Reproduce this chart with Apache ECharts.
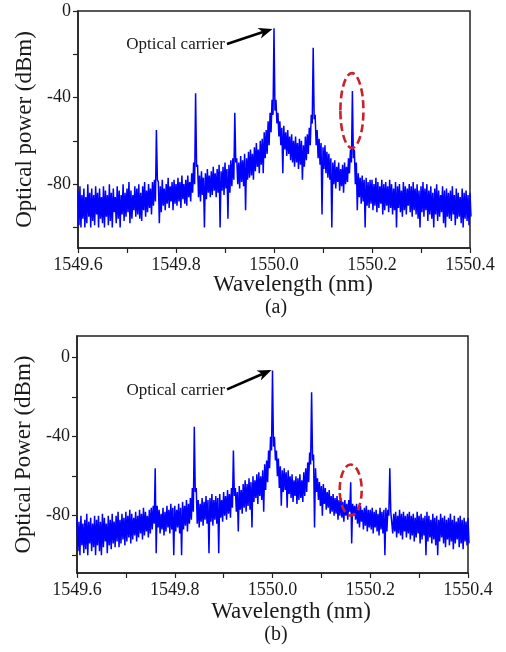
<!DOCTYPE html>
<html><head><meta charset="utf-8">
<script src="https://cdn.jsdelivr.net/npm/echarts@6/dist/echarts.min.js"></script>
<style>html,body{margin:0;padding:0;background:#fff}#c{width:506px;height:652px}</style>
</head><body><div id="c"></div>
<script>
// Spectrum on a wavelength grid: upper trace samples at
// 1549.600 nm + i*0.004 nm, lower trace samples half a step later (201 each).
const wlStart = 1549.6;
const wlStep = 0.004;

// Panel (a): upper / lower samples of the noisy trace (dBm)
const upperA = [
 -83,-81,-85,-82,-86,-80,-84,-82,-85,-81,
 -84,-82,-86,-81,-83,-85,-80,-84,-82,-86,
 -81,-83,-85,-80,-84,-82,-79,-83,-85,-81,
 -82,-80,-84,-81,-79,-83,-80,-82,-79,-78,
 -55,-79,-81,-78,-82,-80,-77,-81,-79,-78,
 -80,-77,-79,-76,-80,-78,-76,-79,-75,-70,
 -38,-71,-76,-74,-77,-75,-73,-76,-74,-72,
 -75,-73,-71,-74,-72,-70,-73,-71,-69,-68,
 -47,-68,-70,-67,-69,-66,-68,-65,-64,-66,
 -63,-61,-64,-60,-59,-56,-55,-51,-47,-41,
 -8,-41,-47,-51,-54,-53,-56,-55,-58,-57,
 -60,-58,-61,-59,-60,-62,-58,-57,-54,-48,
 -17,-48,-55,-59,-61,-63,-62,-65,-66,-68,
 -70,-69,-72,-70,-73,-71,-70,-72,-68,-64,
 -37,-64,-70,-75,-77,-76,-78,-77,-79,-78,
 -78,-80,-77,-79,-81,-78,-80,-79,-81,-78,
 -80,-82,-79,-81,-80,-83,-79,-81,-82,-80,
 -81,-79,-82,-80,-83,-81,-79,-82,-80,-83,
 -81,-84,-82,-80,-83,-85,-81,-83,-82,-84,
 -83,-81,-85,-82,-84,-86,-82,-84,-83,-85,-84
];
const lowerA = [
 -99,-100,-96,-100,-98,-95,-100,-97,-99,-94,
 -100,-96,-98,-100,-95,-99,-97,-100,-93,-98,
 -96,-100,-94,-97,-95,-93,-98,-96,-92,-95,
 -94,-96,-97,-92,-95,-93,-91,-94,-90,-88,
 -78,-98,-93,-90,-92,-89,-91,-88,-92,-89,
 -90,-88,-91,-87,-89,-90,-86,-88,-84,-80,
 -72,-86,-88,-85,-100,-87,-84,-86,-85,-83,
 -86,-84,-100,-83,-85,-82,-96,-84,-81,-78,
 -70,-80,-82,-79,-81,-92,-78,-77,-76,-78,
 -74,-72,-75,-71,-75,-68,-66,-62,-56,-48,
 -46,-52,-58,-62,-75,-64,-67,-66,-69,-70,
 -72,-70,-73,-71,-78,-72,-69,-66,-62,-52,
 -50,-62,-68,-71,-94,-73,-75,-77,-78,-100,
 -80,-82,-79,-83,-81,-84,-80,-79,-75,-70,
 -68,-80,-92,-86,-89,-88,-100,-90,-91,-89,
 -92,-90,-93,-91,-89,-94,-92,-90,-93,-91,
 -94,-92,-100,-91,-93,-95,-92,-94,-90,-93,
 -95,-92,-94,-96,-100,-93,-95,-92,-97,-94,
 -96,-100,-94,-97,-95,-93,-98,-100,-95,-96,
 -97,-94,-99,-96,-95,-98,-100,-96,-97,-99,-95
];

// Panel (b): upper / lower samples of the noisy trace (dBm)
const upperB = [
 -81,-83,-80,-84,-82,-79,-83,-81,-84,-80,
 -82,-80,-83,-79,-81,-84,-80,-82,-79,-83,
 -80,-78,-82,-79,-81,-78,-80,-77,-79,-81,
 -78,-80,-77,-79,-76,-78,-80,-77,-76,-75,
 -56,-75,-77,-79,-76,-78,-75,-77,-74,-76,
 -75,-77,-74,-76,-73,-75,-72,-74,-71,-66,
 -35,-66,-72,-74,-71,-73,-70,-72,-71,-69,
 -72,-70,-71,-69,-72,-68,-70,-67,-69,-66,
 -47,-66,-68,-65,-67,-64,-62,-64,-61,-63,
 -60,-62,-59,-58,-60,-57,-54,-52,-47,-40,
 -6.5,-40,-47,-51,-55,-57,-56,-58,-57,-60,
 -59,-62,-60,-61,-59,-62,-58,-56,-53,-48,
 -17.5,-49,-56,-61,-63,-65,-64,-66,-68,-67,
 -70,-69,-71,-70,-72,-71,-73,-72,-74,-72,
 -63,-74,-75,-74,-76,-75,-77,-76,-75,-77,
 -77,-76,-78,-77,-79,-76,-78,-77,-76,-77,
 -56,-77,-79,-78,-80,-77,-79,-78,-80,-79,
 -78,-80,-79,-81,-78,-80,-79,-81,-80,-78,
 -80,-82,-79,-81,-80,-82,-79,-81,-80,-82,
 -81,-79,-82,-80,-83,-81,-80,-82,-81,-83,-81
];
const lowerB = [
 -98,-100,-95,-99,-97,-100,-94,-98,-96,-100,
 -95,-98,-100,-96,-93,-99,-95,-97,-94,-96,
 -93,-96,-94,-92,-95,-93,-91,-94,-92,-90,
 -93,-91,-89,-92,-90,-88,-91,-89,-87,-84,
 -99,-86,-89,-87,-90,-88,-86,-89,-87,-100,
 -88,-86,-89,-100,-87,-85,-88,-84,-82,-78,
 -68,-84,-86,-83,-85,-82,-84,-99,-83,-85,
 -82,-84,-99,-81,-83,-80,-82,-79,-81,-76,
 -70,-78,-88,-77,-79,-76,-78,-75,-77,-86,
 -73,-71,-74,-70,-72,-78,-67,-63,-56,-47,
 -45,-52,-60,-66,-75,-68,-67,-76,-69,-71,
 -73,-70,-74,-72,-71,-73,-70,-68,-63,-54,
 -52,-86,-68,-72,-75,-80,-74,-77,-76,-79,
 -78,-80,-79,-82,-80,-81,-83,-80,-82,-78,
 -94,-80,-82,-84,-86,-83,-87,-85,-88,-86,
 -87,-89,-86,-88,-90,-87,-89,-100,-88,-80,
 -78,-89,-88,-91,-89,-90,-92,-88,-91,-89,
 -92,-90,-93,-91,-89,-94,-92,-90,-100,-93,
 -91,-94,-92,-95,-100,-93,-91,-94,-96,-92,
 -95,-93,-97,-94,-92,-96,-94,-97,-93,-95,-94
];

const xLabelValues = [1549.6, 1549.8, 1550.0, 1550.2, 1550.4];
const xTickValues = [1549.6, 1549.7, 1549.8, 1549.9, 1550.0, 1550.1, 1550.2, 1550.3, 1550.4];
const yLabelValues = [0, -40, -80];
const yTickValues = [0, -20, -40, -60, -80, -100];
const yTitles = ['Optical power (dBm)', 'Optical Power (dBm)'];
const xTitle = 'Wavelength (nm)';
const panelLabels = ['(a)', '(b)'];
const annotText = 'Optical carrier';

const FONT = "'Liberation Serif','Times New Roman',serif";
const TXT = '#1a1a1a';

const chart = echarts.init(document.getElementById('c'), null, {renderer: 'canvas'});

function toSeries(up, lo) {
  const out = [];
  for (let i = 0; i < up.length; i++) {
    const x = wlStart + i * wlStep;
    out.push([+x.toFixed(4), up[i]]);
    out.push([+(x + wlStep / 2).toFixed(4), lo[i]]);
  }
  return out;
}

const grids = [
  {left: 78, top: 11, width: 392, height: 237},
  {left: 77, top: 336, width: 391, height: 237}
];
const yRanges = [[-109.5, 0], [-109, 11]];

function xAxisDef(gi) {
  return {
    type: 'value', gridIndex: gi, min: 1549.6, max: 1550.4,
    axisLine: {show: true, onZero: false, lineStyle: {color: '#222', width: 1.5}},
    axisTick: {show: true, inside: false, length: 5, customValues: xTickValues, lineStyle: {color: '#222', width: 1.2}},
    axisLabel: {show: true, customValues: xLabelValues, margin: 8, color: TXT, fontFamily: FONT, fontSize: 18,
      formatter: v => (+v).toFixed(1)},
    splitLine: {show: false}
  };
}
function yAxisDef(gi) {
  return {
    type: 'value', gridIndex: gi, min: yRanges[gi][0], max: yRanges[gi][1],
    name: yTitles[gi], nameLocation: 'middle', nameGap: 40,
    nameTextStyle: {color: TXT, fontFamily: FONT, fontSize: 23},
    axisLine: {show: true, onZero: false, lineStyle: {color: '#222', width: 1.5}},
    axisTick: {show: true, inside: false, length: 5, customValues: yTickValues, lineStyle: {color: '#222', width: 1.2}},
    axisLabel: {show: true, customValues: yLabelValues, margin: 7, color: TXT, fontFamily: FONT, fontSize: 18},
    splitLine: {show: false}
  };
}

chart.setOption({
  animation: false,
  backgroundColor: '#fff',
  grid: grids.map(g => Object.assign({show: true, borderColor: '#222', borderWidth: 1.5, backgroundColor: 'transparent'}, g)),
  xAxis: [xAxisDef(0), xAxisDef(1)],
  yAxis: [yAxisDef(0), yAxisDef(1)],
  series: [
    {type: 'line', xAxisIndex: 0, yAxisIndex: 0, data: toSeries(upperA, lowerA), showSymbol: false, sampling: false,
     clip: true, lineStyle: {color: '#0000ff', width: 1.5}, itemStyle: {color: '#0000ff'}, silent: true},
    {type: 'line', xAxisIndex: 1, yAxisIndex: 1, data: toSeries(upperB, lowerB), showSymbol: false, sampling: false,
     clip: true, lineStyle: {color: '#0000ff', width: 1.5}, itemStyle: {color: '#0000ff'}, silent: true}
  ]
});

// Annotations in data coordinates
const arrows = [
  {grid: 0, from: [1549.904, -15.2], to: [1549.997, -8.3]},
  {grid: 1, from: [1549.907, -16], to: [1549.998, -6.2]}
];
const ellipses = [
  {grid: 0, center: [1550.159, -46], dx: 0.0235, dy: 17.3},
  {grid: 1, center: [1550.160, -67], dx: 0.0225, dy: 12.9}
];
const titlePos = [ // pixel layout of the bottom titles
  {title: [293, 285], label: [276, 308]},
  {title: [291, 612], label: [276, 635]}
];

const g = [];
arrows.forEach(a => {
  const p0 = chart.convertToPixel({gridIndex: a.grid}, a.from);
  const p1 = chart.convertToPixel({gridIndex: a.grid}, a.to);
  const dx = p1[0] - p0[0], dy = p1[1] - p0[1], L = Math.hypot(dx, dy), ux = dx / L, uy = dy / L;
  const hl = 14, hw = 5.5;
  const bx = p1[0] - ux * hl, by = p1[1] - uy * hl;
  g.push({type: 'line', z: 100, shape: {x1: p0[0], y1: p0[1], x2: bx + ux * 4, y2: by + uy * 4},
          style: {stroke: '#000', lineWidth: 2.6}});
  g.push({type: 'polygon', z: 100, shape: {points: [[p1[0], p1[1]], [bx - uy * hw, by + ux * hw], [bx + ux * 4, by + uy * 4], [bx + uy * hw, by - ux * hw]]},
          style: {fill: '#000'}});
  g.push({type: 'text', z: 100, x: p0[0] - 2, y: p0[1] + 1,
          style: {text: annotText, align: 'right', verticalAlign: 'middle', fill: TXT, font: "17px " + FONT}});
});
ellipses.forEach(e => {
  const c = chart.convertToPixel({gridIndex: e.grid}, e.center);
  const c2 = chart.convertToPixel({gridIndex: e.grid}, [e.center[0] + e.dx, e.center[1] + e.dy]);
  g.push({type: 'ellipse', z: 110, shape: {cx: c[0], cy: c[1], rx: Math.abs(c2[0] - c[0]), ry: Math.abs(c2[1] - c[1])},
          style: {fill: null, stroke: '#c8232b', lineWidth: 2.6, lineDash: [8, 4]}});
});
titlePos.forEach((t, i) => {
  g.push({type: 'text', x: t.title[0], y: t.title[1],
          style: {text: xTitle, align: 'center', verticalAlign: 'middle', fill: TXT, font: "23px " + FONT}});
  g.push({type: 'text', x: t.label[0], y: t.label[1],
          style: {text: panelLabels[i], align: 'center', verticalAlign: 'middle', fill: TXT, font: "20px " + FONT}});
});
chart.setOption({graphic: g});
</script>
</body></html>
